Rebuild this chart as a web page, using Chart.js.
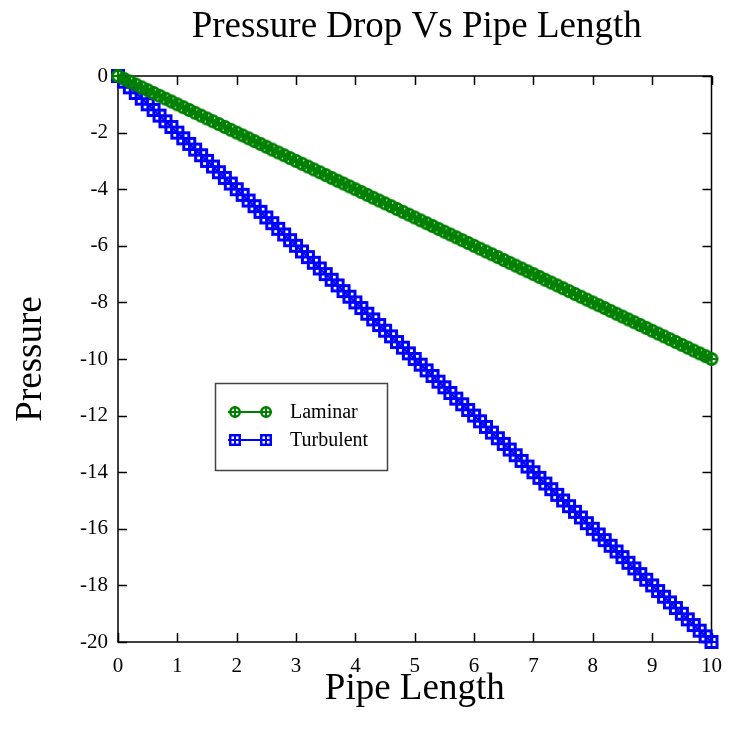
<!DOCTYPE html>
<html>
<head>
<meta charset="utf-8">
<script src="https://cdn.jsdelivr.net/npm/chart.js@4"></script>
<style>
html, body { margin: 0; padding: 0; background: #fff; }
#wrap { width: 734px; height: 734px; }
</style>
</head>
<body>
<div id="wrap"><canvas id="chart" width="734" height="734"></canvas></div>
<script>
// ===== DATOS =====
const pipeLength = [
    0, 0.1, 0.2, 0.3, 0.4, 0.5, 0.6, 0.7, 0.8, 0.9,
    1, 1.1, 1.2, 1.3, 1.4, 1.5, 1.6, 1.7, 1.8, 1.9,
    2, 2.1, 2.2, 2.3, 2.4, 2.5, 2.6, 2.7, 2.8, 2.9,
    3, 3.1, 3.2, 3.3, 3.4, 3.5, 3.6, 3.7, 3.8, 3.9,
    4, 4.1, 4.2, 4.3, 4.4, 4.5, 4.6, 4.7, 4.8, 4.9,
    5, 5.1, 5.2, 5.3, 5.4, 5.5, 5.6, 5.7, 5.8, 5.9,
    6, 6.1, 6.2, 6.3, 6.4, 6.5, 6.6, 6.7, 6.8, 6.9,
    7, 7.1, 7.2, 7.3, 7.4, 7.5, 7.6, 7.7, 7.8, 7.9,
    8, 8.1, 8.2, 8.3, 8.4, 8.5, 8.6, 8.7, 8.8, 8.9,
    9, 9.1, 9.2, 9.3, 9.4, 9.5, 9.6, 9.7, 9.8, 9.9,
    10
];
const laminar = [
    0, -0.1, -0.2, -0.3, -0.4, -0.5, -0.6, -0.7, -0.8, -0.9,
    -1, -1.1, -1.2, -1.3, -1.4, -1.5, -1.6, -1.7, -1.8, -1.9,
    -2, -2.1, -2.2, -2.3, -2.4, -2.5, -2.6, -2.7, -2.8, -2.9,
    -3, -3.1, -3.2, -3.3, -3.4, -3.5, -3.6, -3.7, -3.8, -3.9,
    -4, -4.1, -4.2, -4.3, -4.4, -4.5, -4.6, -4.7, -4.8, -4.9,
    -5, -5.1, -5.2, -5.3, -5.4, -5.5, -5.6, -5.7, -5.8, -5.9,
    -6, -6.1, -6.2, -6.3, -6.4, -6.5, -6.6, -6.7, -6.8, -6.9,
    -7, -7.1, -7.2, -7.3, -7.4, -7.5, -7.6, -7.7, -7.8, -7.9,
    -8, -8.1, -8.2, -8.3, -8.4, -8.5, -8.6, -8.7, -8.8, -8.9,
    -9, -9.1, -9.2, -9.3, -9.4, -9.5, -9.6, -9.7, -9.8, -9.9,
    -10
];
const turbulent = [
    0, -0.2, -0.4, -0.6, -0.8, -1, -1.2, -1.4, -1.6, -1.8,
    -2, -2.2, -2.4, -2.6, -2.8, -3, -3.2, -3.4, -3.6, -3.8,
    -4, -4.2, -4.4, -4.6, -4.8, -5, -5.2, -5.4, -5.6, -5.8,
    -6, -6.2, -6.4, -6.6, -6.8, -7, -7.2, -7.4, -7.6, -7.8,
    -8, -8.2, -8.4, -8.6, -8.8, -9, -9.2, -9.4, -9.6, -9.8,
    -10, -10.2, -10.4, -10.6, -10.8, -11, -11.2, -11.4, -11.6, -11.8,
    -12, -12.2, -12.4, -12.6, -12.8, -13, -13.2, -13.4, -13.6, -13.8,
    -14, -14.2, -14.4, -14.6, -14.8, -15, -15.2, -15.4, -15.6, -15.8,
    -16, -16.2, -16.4, -16.6, -16.8, -17, -17.2, -17.4, -17.6, -17.8,
    -18, -18.2, -18.4, -18.6, -18.8, -19, -19.2, -19.4, -19.6, -19.8,
    -20
];
const xTicks = [0, 1, 2, 3, 4, 5, 6, 7, 8, 9, 10];
const yTicks = [0, -2, -4, -6, -8, -10, -12, -14, -16, -18, -20];

const SERIF = '"Liberation Serif", "DejaVu Serif", serif';
const GREEN = '#008000';
const BLUE = '#0000ff';
const TITLE = 'Pressure Drop Vs Pipe Length';

// ===== MARCADORES =====
// s = lado del lienzo, w = grosor del contorno
function makeMarker(color, shape, s, w) {
    const c = document.createElement('canvas');
    c.width = s; c.height = s;
    const g = c.getContext('2d');
    const m = s / 2;
    g.strokeStyle = color;
    g.lineWidth = w;
    if (shape === 'circle') {
        g.beginPath(); g.arc(m, m, m - w / 2 - 1, 0, Math.PI * 2); g.stroke();
    } else {
        g.strokeRect(w / 2 + 1, w / 2 + 1, s - w - 2, s - w - 2);
    }
    g.lineWidth = 2;
    g.beginPath();
    g.moveTo(m, 1); g.lineTo(m, s - 1);
    g.moveTo(1, m); g.lineTo(s - 1, m);
    g.stroke();
    return c;
}
const markLaminar = makeMarker(GREEN, 'circle', 16, 3);
const markTurbulent = makeMarker(BLUE, 'square', 16, 3);
const legLaminar = makeMarker(GREEN, 'circle', 14, 2.5);
const legTurbulent = makeMarker(BLUE, 'square', 14, 2.5);

const toPoints = ys => pipeLength.map((x, i) => ({ x: x, y: ys[i] }));

// ===== MARCO Y TICKS INTERIORES =====
const framePlugin = {
    id: 'frame',
    beforeDatasetsDraw(chart) {
        const { ctx, chartArea: a, scales } = chart;
        ctx.save();
        ctx.strokeStyle = '#000';
        ctx.lineWidth = 1.5;
        ctx.strokeRect(a.left, a.top, a.right - a.left, a.bottom - a.top);
        ctx.beginPath();
        xTicks.forEach(v => {
            const px = Math.round(scales.x.getPixelForValue(v)) + 0.5;
            ctx.moveTo(px, a.bottom); ctx.lineTo(px, a.bottom - 9);
            ctx.moveTo(px, a.top); ctx.lineTo(px, a.top + 9);
        });
        yTicks.forEach(v => {
            const py = Math.round(scales.y.getPixelForValue(v)) + 0.5;
            ctx.moveTo(a.left, py); ctx.lineTo(a.left + 9, py);
            ctx.moveTo(a.right, py); ctx.lineTo(a.right - 9, py);
        });
        ctx.stroke();
        ctx.restore();
    }
};

// ===== TITULO Y LEYENDA =====
const overlayPlugin = {
    id: 'overlay',
    afterDraw(chart) {
        const ctx = chart.ctx;
        const a = chart.chartArea;
        ctx.save();
        ctx.fillStyle = '#000';
        ctx.font = '37px ' + SERIF;
        ctx.textAlign = 'center';
        ctx.textBaseline = 'alphabetic';
        ctx.fillText(TITLE, (a.left + a.right) / 2 + 2, 37);

        const items = [
            { label: chart.data.datasets[0].label, color: GREEN, mark: legLaminar, y: 412 },
            { label: chart.data.datasets[1].label, color: BLUE, mark: legTurbulent, y: 440 }
        ];
        ctx.fillStyle = '#fff';
        ctx.fillRect(215, 383, 172, 87);
        ctx.strokeStyle = '#444';
        ctx.lineWidth = 1.5;
        ctx.strokeRect(215.5, 383.5, 172, 87);
        ctx.textAlign = 'left';
        items.forEach(it => {
            ctx.strokeStyle = it.color;
            ctx.lineWidth = 2;
            ctx.beginPath(); ctx.moveTo(228, it.y); ctx.lineTo(272, it.y); ctx.stroke();
            ctx.drawImage(it.mark, 235 - 7, it.y - 7);
            ctx.drawImage(it.mark, 266 - 7, it.y - 7);
            ctx.fillStyle = '#000';
            ctx.font = '20px ' + SERIF;
            ctx.textBaseline = 'middle';
            ctx.fillText(it.label, 290, it.y + 1);
        });
        ctx.restore();
    }
};

new Chart(document.getElementById('chart'), {
    type: 'scatter',
    data: {
        datasets: [
            { label: 'Laminar', data: toPoints(laminar), showLine: true, borderColor: GREEN, borderWidth: 2,
              pointStyle: markLaminar, pointRadius: 8, clip: false },
            { label: 'Turbulent', data: toPoints(turbulent), showLine: true, borderColor: BLUE, borderWidth: 2,
              pointStyle: markTurbulent, pointRadius: 8, clip: false }
        ]
    },
    options: {
        responsive: false,
        animation: false,
        devicePixelRatio: 1,
        layout: { padding: { left: 0, right: 12, top: 76, bottom: 0 } },
        plugins: {
            legend: { display: false },
            tooltip: { enabled: false },
            title: { display: false }
        },
        scales: {
            x: {
                type: 'linear', min: 0, max: 10,
                afterBuildTicks: s => { s.ticks = xTicks.map(v => ({ value: v })); },
                afterFit: s => { s.height = 92; },
                grid: { display: false, tickLength: 0 }, border: { display: false },
                ticks: { color: '#000', padding: 12, font: { family: SERIF, size: 21 } },
                title: { display: true, text: 'Pipe Length', color: '#000',
                         font: { family: SERIF, size: 37 }, padding: { top: 0, bottom: 23 } }
            },
            y: {
                type: 'linear', min: -20, max: 0,
                afterBuildTicks: s => { s.ticks = yTicks.map(v => ({ value: v })); },
                afterFit: s => { s.width = 118; },
                grid: { display: false, tickLength: 0 }, border: { display: false },
                ticks: { color: '#000', padding: 10, font: { family: SERIF, size: 21 } },
                title: { display: true, text: 'Pressure', color: '#000',
                         font: { family: SERIF, size: 37 }, padding: { top: 9, bottom: 0 } }
            }
        }
    },
    plugins: [framePlugin, overlayPlugin]
});
</script>
</body>
</html>
